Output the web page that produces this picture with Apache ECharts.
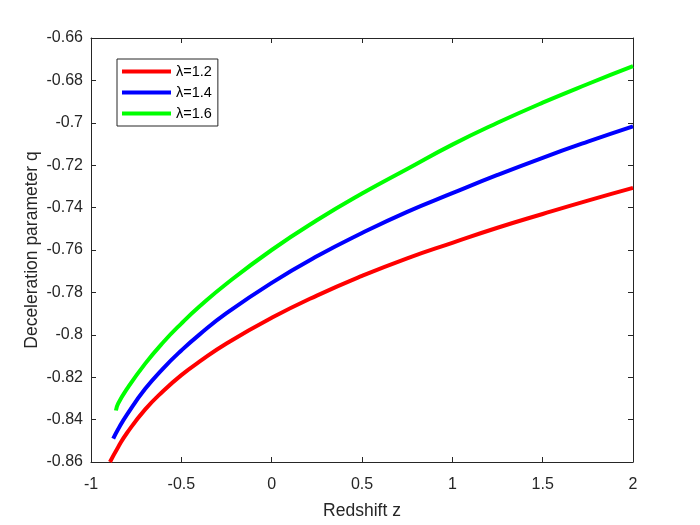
<!DOCTYPE html>
<html>
<head>
<meta charset="utf-8">
<script src="https://cdn.jsdelivr.net/npm/echarts@6/dist/echarts.min.js"></script>
<style>html,body{margin:0;padding:0;background:#fff}#c{width:700px;height:525px}</style>
</head>
<body>
<div id="c"></div>
<script>
// Values
const legendNames = ['λ=1.2', 'λ=1.4', 'λ=1.6'];
const zRed   = [-0.895, -0.85, -0.8, -0.7, -0.6, -0.5, -0.4, -0.25, 0, 0.25, 0.5, 0.75, 1, 1.25, 1.5, 1.75, 2];
const qRed   = [-0.86, -0.853, -0.8462, -0.8352, -0.8265, -0.819, -0.8127, -0.8041, -0.792, -0.7815, -0.7722, -0.7639, -0.7566, -0.7495, -0.743, -0.7367, -0.7307];
const zBlue  = [-0.877, -0.85, -0.8, -0.7, -0.6, -0.5, -0.4, -0.25, 0, 0.25, 0.5, 0.75, 1, 1.25, 1.5, 1.75, 2];
const qBlue  = [-0.849, -0.8445, -0.8375, -0.8255, -0.8158, -0.8074, -0.7999, -0.7898, -0.7755, -0.763, -0.752, -0.742, -0.7332, -0.7246, -0.7165, -0.7089, -0.7017];
const zGreen = [-0.862, -0.85, -0.8, -0.7, -0.6, -0.5, -0.4, -0.25, 0, 0.25, 0.5, 0.75, 1, 1.25, 1.5, 1.75, 2];
const qGreen = [-0.8357, -0.8325, -0.8254, -0.8136, -0.8035, -0.7947, -0.7867, -0.7759, -0.76, -0.746, -0.7334, -0.7218, -0.7103, -0.7, -0.6905, -0.6817, -0.6733];
const xTicks = {min: -1, max: 2, step: 0.5};
const yTicks = {min: -0.86, max: -0.66, step: 0.02};

const pair = (zs, qs) => zs.map((z, i) => [z, qs[i]]);
const fmt = v => String(parseFloat(Number(v).toFixed(2)));
const axisCol = '#262626';
const font = 'Liberation Sans, Arial, Helvetica, sans-serif';

const xBase = {
  type: 'value', min: xTicks.min, max: xTicks.max, interval: xTicks.step,
  axisLine: {show: true, onZero: false, lineStyle: {color: axisCol, width: 1}},
  axisTick: {show: true, inside: true, length: 5, lineStyle: {color: axisCol}},
  splitLine: {show: false}
};
const yBase = {
  type: 'value', min: yTicks.min, max: yTicks.max, interval: yTicks.step,
  axisLine: {show: true, onZero: false, lineStyle: {color: axisCol, width: 1}},
  axisTick: {show: true, inside: true, length: 5, lineStyle: {color: axisCol}},
  splitLine: {show: false}
};

const chart = echarts.init(document.getElementById('c'));
chart.setOption({
  animation: false,
  backgroundColor: '#fff',
  grid: {left: 91, right: 67, top: 38, bottom: 60, containLabel: false},
  xAxis: [
    Object.assign({}, xBase, {
      position: 'bottom',
      name: 'Redshift z', nameLocation: 'middle', nameGap: 40, nameMoveOverlap: false,
      nameTextStyle: {color: axisCol, fontSize: 17.5, fontFamily: font},
      axisLabel: {show: true, formatter: fmt, color: axisCol, fontSize: 16, fontFamily: font, margin: 15}
    }),
    Object.assign({}, xBase, {position: 'top', axisLabel: {show: false}})
  ],
  yAxis: [
    Object.assign({}, yBase, {
      position: 'left',
      name: 'Deceleration parameter q', nameLocation: 'middle', nameGap: 50, nameMoveOverlap: false,
      nameTextStyle: {color: axisCol, fontSize: 17.5, fontFamily: font},
      axisLabel: {show: true, formatter: fmt, color: axisCol, fontSize: 16, fontFamily: font, margin: 8}
    }),
    Object.assign({}, yBase, {position: 'right', axisLabel: {show: false}})
  ],
  legend: {
    orient: 'vertical', left: 117, top: 59,
    data: legendNames,
    icon: 'rect', itemWidth: 49, itemHeight: 4, itemGap: 6,
    padding: [5, 6, 5, 5],
    backgroundColor: '#fff', borderColor: axisCol, borderWidth: 1,
    textStyle: {color: '#000', fontSize: 14.5, fontFamily: font, padding: [0, 0, 0, 0]}
  },
  series: [
    {name: legendNames[0], type: 'line', data: pair(zRed, qRed), smooth: true, showSymbol: false, symbol: 'none',
     color: '#ff0000', lineStyle: {color: '#ff0000', width: 4}},
    {name: legendNames[1], type: 'line', data: pair(zBlue, qBlue), smooth: true, showSymbol: false, symbol: 'none',
     color: '#0000ff', lineStyle: {color: '#0000ff', width: 4}},
    {name: legendNames[2], type: 'line', data: pair(zGreen, qGreen), smooth: true, showSymbol: false, symbol: 'none',
     color: '#00ff00', lineStyle: {color: '#00ff00', width: 4}}
  ]
});
</script>
</body>
</html>
